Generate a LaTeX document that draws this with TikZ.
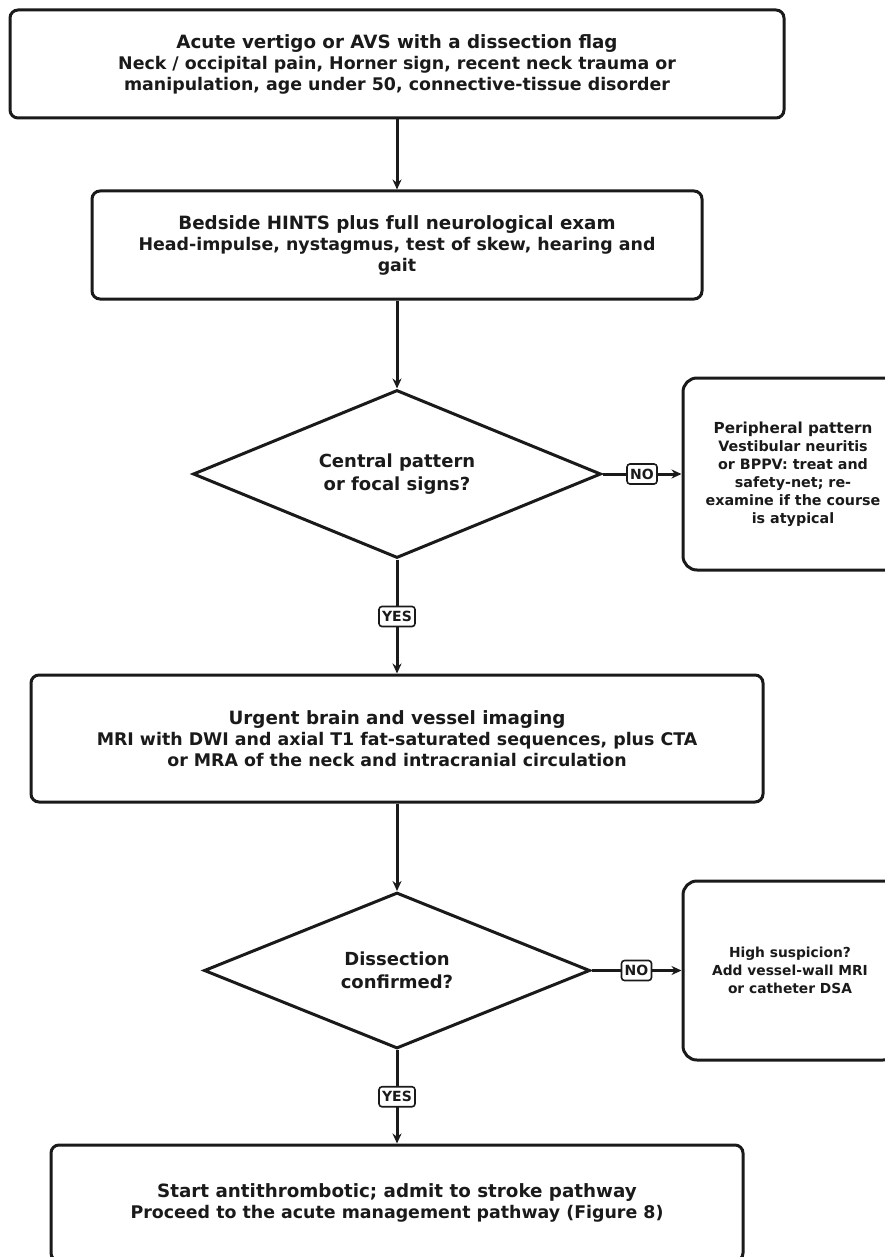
\documentclass[tikz,border=0pt]{standalone}
\usepackage{fontspec}
\setmainfont{DejaVu Sans}
\usetikzlibrary{shapes.geometric,arrows.meta}
\definecolor{ink}{HTML}{1A1A1A}
\newcommand\boxttl[1]{{\fontsize{18.3}{21}\selectfont #1}}
\newcommand\sidettl[1]{{\fontsize{15.2}{18}\selectfont #1}}
\tikzset{
  box/.style={draw=ink, line width=3pt, rounded corners=8pt, fill=white, align=center, text=ink,
    font=\fontsize{17.4}{21}\selectfont\bfseries, inner sep=0pt},
  sidebox/.style={draw=ink, line width=3pt, rounded corners=14pt, fill=white, align=center, text=ink,
    font=\fontsize{14.3}{18}\selectfont\bfseries, inner sep=0pt},
  dia/.style={draw=ink, line width=3pt, shape=diamond, fill=white, align=center, text=ink,
    font=\fontsize{18}{23}\selectfont\bfseries, inner sep=0pt},
  lbl/.style={draw=ink, line width=1.6pt, rounded corners=3pt, fill=white, text=ink,
    font=\fontsize{14}{16}\selectfont\bfseries, inner sep=0pt, minimum height=20pt, text width=#1, align=center},
  lbl/.default=30pt,
  arr/.style={draw=ink, line width=3pt, -{Stealth[length=10pt,width=9pt]}},
}
\begin{document}
\begin{tikzpicture}[x=1pt,y=-1pt]
\useasboundingbox (0,0) rectangle (884,1257);
\node[box, minimum width=774pt, minimum height=108pt] (b1) at (397,64)
  {\boxttl{Acute vertigo or AVS with a dissection flag}\\Neck / occipital pain, Horner sign, recent neck trauma or\\manipulation, age under 50, connective-tissue disorder};
\node[box, minimum width=610pt, minimum height=108pt] (b2) at (397,245)
  {\boxttl{Bedside HINTS plus full neurological exam}\\Head-impulse, nystagmus, test of skew, hearing and\\gait};
\node[dia, aspect=2.43, minimum width=408pt, minimum height=168pt] (d1) at (397,474)
  {Central pattern\\or focal signs?};
\node[sidebox, minimum width=220pt, minimum height=192pt] (s1) at (793,474)
  {\sidettl{Peripheral pattern}\\Vestibular neuritis\\or BPPV: treat and\\safety-net; re-\\examine if the course\\is atypical};
\node[box, minimum width=732pt, minimum height=127pt] (b3) at (397,738.5)
  {\boxttl{Urgent brain and vessel imaging}\\MRI with DWI and axial T1 fat-saturated sequences, plus CTA\\or MRA of the neck and intracranial circulation};
\node[dia, aspect=2.47, minimum width=386pt, minimum height=156pt] (d2) at (397,970.5)
  {Dissection\\confirmed?};
\node[sidebox, minimum width=214pt, minimum height=179pt, font=\fontsize{13.8}{18}\selectfont\bfseries] (s2) at (790,970.5)
  {High suspicion?\\Add vessel-wall MRI\\or catheter DSA};
\node[box, minimum width=692pt, minimum height=116pt] (b4) at (397,1203)
  {\boxttl{Start antithrombotic; admit to stroke pathway}\\Proceed to the acute management pathway (Figure 8)};
\draw[arr] (b1) -- (b2);
\draw[arr] (b2) -- (d1);
\draw[arr] (d1) -- node[lbl]{NO} (s1);
\draw[arr] (d1) -- node[lbl=36pt]{YES} (b3);
\draw[arr] (b3) -- (d2);
\draw[arr] (d2) -- node[lbl]{NO} (s2);
\draw[arr] (d2) -- node[lbl=36pt]{YES} (b4);
\end{tikzpicture}
\end{document}
